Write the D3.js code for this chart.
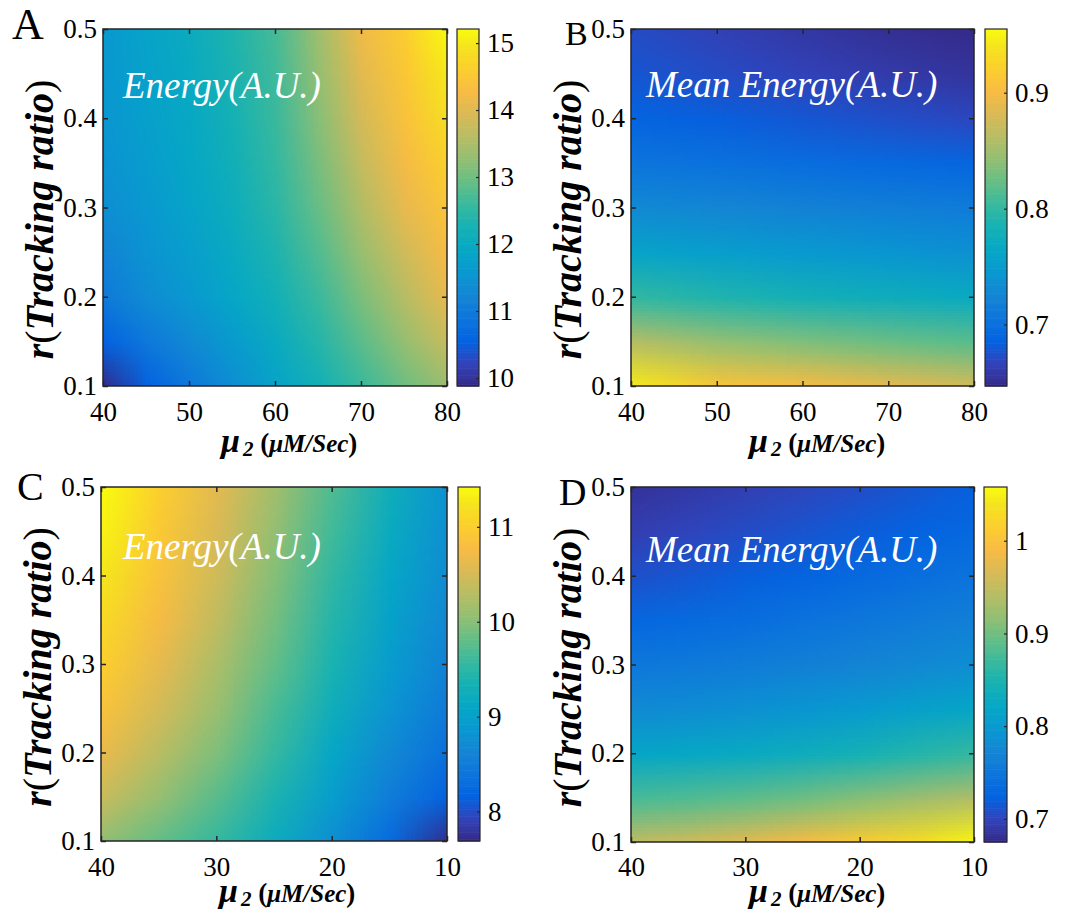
<!DOCTYPE html>
<html>
<head>
<meta charset="utf-8">
<script src="https://cdn.jsdelivr.net/npm/d3@7"></script>
<style>
  body { margin: 0; background: #fff; }
  svg { display: block; }
  text { font-family: "Liberation Serif", "Times New Roman", serif; }
</style>
</head>
<body>
<svg id="chart" width="1083" height="913"></svg>
<script>
// ---- data ----
var rGrid = [0.1, 0.15, 0.2, 0.25, 0.3, 0.35, 0.4, 0.45, 0.5];
var rTicks = [0.1, 0.2, 0.3, 0.4, 0.5];

// panel A: energy, mu2 = 40..80
var muA = [40, 45, 50, 55, 60, 65, 70, 75, 80];
var energyA = [
  [9.9, 10.55, 10.95, 11.4, 11.85, 12.2, 12.6, 13.0, 13.35],
  [10.55, 10.95, 11.3, 11.65, 12.0, 12.4, 12.85, 13.3, 13.75],
  [11.0, 11.35, 11.6, 11.9, 12.2, 12.6, 13.1, 13.6, 14.1],
  [11.2, 11.5, 11.72, 12.0, 12.33, 12.78, 13.33, 13.85, 14.28],
  [11.4, 11.6, 11.85, 12.1, 12.45, 12.95, 13.55, 14.1, 14.45],
  [11.48, 11.68, 11.9, 12.18, 12.53, 13.08, 13.73, 14.25, 14.65],
  [11.55, 11.75, 11.95, 12.25, 12.6, 13.2, 13.9, 14.4, 14.85],
  [11.58, 11.8, 12.0, 12.3, 12.65, 13.3, 14.05, 14.5, 15.0],
  [11.6, 11.85, 12.05, 12.35, 12.7, 13.4, 14.2, 14.6, 15.2]
];
var ticksA = [10, 11, 12, 13, 14, 15];

// panel B: mean energy, mu2 = 40..80
var muB = [40, 50, 60, 70, 80];
var meanB = [
  [0.945, 0.912, 0.903, 0.890, 0.878],
  [0.862, 0.845, 0.835, 0.826, 0.818],
  [0.800, 0.790, 0.782, 0.776, 0.770],
  [0.760, 0.754, 0.748, 0.743, 0.738],
  [0.730, 0.726, 0.722, 0.718, 0.714],
  [0.706, 0.702, 0.698, 0.694, 0.690],
  [0.688, 0.684, 0.679, 0.674, 0.669],
  [0.678, 0.672, 0.666, 0.660, 0.655],
  [0.672, 0.665, 0.658, 0.652, 0.648]
];
var ticksB = [0.7, 0.8, 0.9];

// panel C: energy, mu2 = 40..10 (left to right)
var muC = [40, 35, 30, 25, 20, 15, 10];
var energyC = [
  [10.05, 9.8, 9.55, 9.2, 8.75, 8.25, 7.7],
  [10.4, 10.08, 9.75, 9.38, 8.95, 8.5, 8.15],
  [10.65, 10.3, 9.95, 9.55, 9.1, 8.68, 8.33],
  [10.85, 10.48, 10.1, 9.67, 9.25, 8.82, 8.48],
  [11.0, 10.63, 10.22, 9.8, 9.37, 8.93, 8.58],
  [11.12, 10.75, 10.35, 9.9, 9.45, 9.02, 8.66],
  [11.25, 10.85, 10.45, 9.98, 9.53, 9.1, 8.72],
  [11.35, 10.93, 10.53, 10.07, 9.62, 9.18, 8.76],
  [11.42, 11.0, 10.6, 10.15, 9.7, 9.25, 8.8]
];
var ticksC = [8, 9, 10, 11];

// panel D: mean energy, mu2 = 40..10 (left to right)
var muD = [40, 35, 30, 25, 20, 15, 10];
var meanD = [
  [0.950, 0.960, 0.975, 0.992, 1.010, 1.030, 1.055],
  [0.878, 0.883, 0.890, 0.900, 0.913, 0.927, 0.940],
  [0.820, 0.823, 0.828, 0.835, 0.845, 0.856, 0.868],
  [0.780, 0.783, 0.788, 0.794, 0.802, 0.811, 0.820],
  [0.752, 0.755, 0.760, 0.765, 0.771, 0.777, 0.784],
  [0.730, 0.734, 0.739, 0.745, 0.751, 0.758, 0.765],
  [0.710, 0.715, 0.721, 0.727, 0.733, 0.740, 0.746],
  [0.695, 0.701, 0.707, 0.713, 0.719, 0.725, 0.732],
  [0.684, 0.690, 0.696, 0.702, 0.708, 0.715, 0.722]
];
var ticksD = [0.7, 0.8, 0.9, 1];

// parula colormap stops
var parula = [
  [0.2081, 0.1663, 0.5292], [0.1959, 0.2645, 0.7279], [0.0117, 0.3875, 0.8820],
  [0.0498, 0.4586, 0.8641], [0.0793, 0.5200, 0.8312], [0.0343, 0.5966, 0.8199],
  [0.0228, 0.6535, 0.7768], [0.0843, 0.6928, 0.7062], [0.2178, 0.7250, 0.6193],
  [0.3953, 0.7459, 0.5244], [0.5709, 0.7485, 0.4494], [0.7184, 0.7411, 0.3905],
  [0.8507, 0.7299, 0.3360], [0.9739, 0.7314, 0.2666], [0.9880, 0.8066, 0.1794],
  [0.9589, 0.8949, 0.1132], [0.9763, 0.9831, 0.0538]
];
var parulaPos = [0, 4, 8, 12, 16, 20, 24, 28, 32, 36, 40, 44, 48, 52, 56, 60, 63].map(function(i) { return i / 63; });
var parulaColors = parula.map(function(c) { return d3.rgb(c[0] * 255, c[1] * 255, c[2] * 255).toString(); });

var panels = [
  { letter: "A", title: "Energy(A.U.)", mu: muA, z: energyA, ticks: ticksA, cdom: [9.88, 15.21],
    xdom: [40, 80], xticks: [40, 50, 60, 70, 80],
    box: [103, 29, 447, 386], cb: [457, 479], xpad: 16, ylOff: 12, xlOff: 66,
    letterPos: [12, 39, 44], titlePos: [123, 98] },
  { letter: "B", title: "Mean Energy(A.U.)", mu: muB, z: meanB, ticks: ticksB, cdom: [0.647, 0.955],
    xdom: [40, 80], xticks: [40, 50, 60, 70, 80],
    box: [631, 29, 974, 386], cb: [985, 1007], xpad: 16, ylOff: 12, xlOff: 66,
    letterPos: [565, 45, 34], titlePos: [646, 97] },
  { letter: "C", title: "Energy(A.U.)", mu: muC, z: energyC, ticks: ticksC, cdom: [7.69, 11.42],
    xdom: [40, 10], xticks: [40, 30, 20, 10],
    box: [101, 487, 447, 841], cb: [458, 480], xpad: 16, ylOff: 3, xlOff: 61,
    letterPos: [17, 500, 40], titlePos: [123, 559] },
  { letter: "D", title: "Mean Energy(A.U.)", mu: muD, z: meanD, ticks: ticksD, cdom: [0.675, 1.058],
    xdom: [40, 10], xticks: [40, 30, 20, 10],
    box: [631, 487, 974, 842], cb: [984, 1007], xpad: 15, ylOff: 3, xlOff: 60,
    letterPos: [559, 505, 38], titlePos: [646, 562] }
];

var svg = d3.select("#chart");
var defs = svg.append("defs");
var ink = "#262626";
var cmap = d3.scaleLinear().domain(parulaPos).range(parulaColors).interpolate(d3.interpolateRgb);

// builds a small image, one pixel per grid value, coloured through the colour scale
function heatImage(z, color) {
  var rows = z.length, cols = z[0].length;
  var cv = document.createElement("canvas");
  cv.width = cols; cv.height = rows;
  var ctx = cv.getContext("2d");
  var img = ctx.createImageData(cols, rows);
  for (var i = 0; i < rows; i++) {
    for (var j = 0; j < cols; j++) {
      var c = d3.rgb(color(z[i][j]));
      var k = ((rows - 1 - i) * cols + j) * 4; // top row = highest r
      img.data[k] = c.r; img.data[k + 1] = c.g; img.data[k + 2] = c.b; img.data[k + 3] = 255;
    }
  }
  ctx.putImageData(img, 0, 0);
  return cv.toDataURL();
}

panels.forEach(function(p, pi) {
  var x0 = p.box[0], y0 = p.box[1], x1 = p.box[2], y1 = p.box[3];
  var x = d3.scaleLinear().domain(p.xdom).range([x0, x1]);
  var y = d3.scaleLinear().domain([0.1, 0.5]).range([y1, y0]);
  var t = d3.scaleLinear().domain(p.cdom).range([0, 1]).clamp(true);
  var color = function(v) { return cmap(t(v)); };

  var g = svg.append("g");

  defs.append("clipPath").attr("id", "clip" + pi)
    .append("rect").attr("x", x0).attr("y", y0).attr("width", x1 - x0).attr("height", y1 - y0);

  // heatmap: grid values drawn as image, smoothed by the browser
  var cw = Math.abs(x(p.mu[1]) - x(p.mu[0]));
  var ch = Math.abs(y(rGrid[1]) - y(rGrid[0]));
  g.append("image")
    .attr("href", heatImage(p.z, color))
    .attr("x", Math.min(x(p.mu[0]), x(p.mu[p.mu.length - 1])) - cw / 2)
    .attr("y", y(rGrid[rGrid.length - 1]) - ch / 2)
    .attr("width", cw * p.mu.length)
    .attr("height", ch * rGrid.length)
    .attr("preserveAspectRatio", "none")
    .attr("clip-path", "url(#clip" + pi + ")");

  // axes with inward ticks on all four sides
  var fs = "27px";
  var ax = g.append("g").attr("transform", "translate(0," + y1 + ")")
    .call(d3.axisBottom(x).tickValues(p.xticks).tickSize(-5).tickPadding(p.xpad).tickFormat(d3.format("d")));
  var axt = g.append("g").attr("transform", "translate(0," + y0 + ")")
    .call(d3.axisTop(x).tickValues(p.xticks).tickSize(-5).tickFormat(""));
  var ay = g.append("g").attr("transform", "translate(" + x0 + ",0)")
    .call(d3.axisLeft(y).tickValues(rTicks).tickSize(-5).tickPadding(6).tickFormat(d3.format(".1f")));
  var ayr = g.append("g").attr("transform", "translate(" + x1 + ",0)")
    .call(d3.axisRight(y).tickValues(rTicks).tickSize(-5).tickFormat(""));
  [ax, axt, ay, ayr].forEach(function(a) {
    a.select(".domain").remove();
    a.selectAll("line").attr("stroke", ink).attr("stroke-width", 1.5);
    a.selectAll("text").attr("font-size", fs).attr("fill", "#000")
      .style("font-family", '"Liberation Serif", serif');
  });

  g.append("rect").attr("x", x0).attr("y", y0).attr("width", x1 - x0).attr("height", y1 - y0)
    .attr("fill", "none").attr("stroke", ink).attr("stroke-width", 1.5);

  // colorbar
  var cy = d3.scaleLinear().domain(p.cdom).range([y1, y0]);
  var steps = d3.range(0, 200);
  var cbw = p.cb[1] - p.cb[0];
  g.append("g").selectAll("rect").data(steps).join("rect")
    .attr("x", p.cb[0])
    .attr("y", function(s) { return y1 - (s + 1) * (y1 - y0) / steps.length; })
    .attr("width", cbw)
    .attr("height", (y1 - y0) / steps.length + 0.6)
    .attr("fill", function(s) { return color(cy.invert(y1 - (s + 0.5) * (y1 - y0) / steps.length)); });
  var cax = g.append("g").attr("transform", "translate(" + p.cb[1] + ",0)")
    .call(d3.axisRight(cy).tickValues(p.ticks).tickSize(-3).tickPadding(8)
      .tickFormat(function(d) { return String(d); }));
  cax.select(".domain").remove();
  cax.selectAll("line").attr("stroke", ink).attr("stroke-width", 1.2);
  cax.selectAll("text").attr("font-size", fs).attr("fill", "#000")
    .style("font-family", '"Liberation Serif", serif');
  g.append("rect").attr("x", p.cb[0]).attr("y", y0).attr("width", cbw).attr("height", y1 - y0)
    .attr("fill", "none").attr("stroke", ink).attr("stroke-width", 1.2);

  // panel letter
  g.append("text").attr("x", p.letterPos[0]).attr("y", p.letterPos[1])
    .attr("font-size", p.letterPos[2] + "px").text(p.letter);

  // in-plot title
  g.append("text").attr("x", p.titlePos[0]).attr("y", p.titlePos[1])
    .attr("font-size", "37px").attr("font-style", "italic").attr("fill", "#fff")
    .text(p.title);

  // y label
  var yl = g.append("text")
    .attr("transform", "translate(" + (x0 - 50) + "," + ((y0 + y1) / 2 + p.ylOff) + ") rotate(-90)")
    .attr("text-anchor", "middle").attr("font-size", "40px");
  yl.append("tspan").attr("font-weight", "bold").attr("font-style", "italic").text("r");
  yl.append("tspan").text("(");
  yl.append("tspan").attr("font-weight", "bold").attr("font-style", "italic").text("Tracking ratio");
  yl.append("tspan").text(")");

  // x label
  var xl = g.append("text")
    .attr("x", x0 + 118).attr("y", y1 + p.xlOff)
    .attr("font-weight", "bold");
  xl.append("tspan").attr("font-size", "34px").attr("font-style", "italic").text("\u03bc");
  xl.append("tspan").attr("font-size", "21px").attr("font-style", "italic").attr("dx", 3).attr("dy", 4).text("2");
  xl.append("tspan").attr("font-size", "27px").attr("dy", -4).text(" (");
  xl.append("tspan").attr("font-size", "25px").attr("font-style", "italic").text("\u03bcM/Sec");
  xl.append("tspan").attr("font-size", "27px").text(")");
});
</script>
</body>
</html>
